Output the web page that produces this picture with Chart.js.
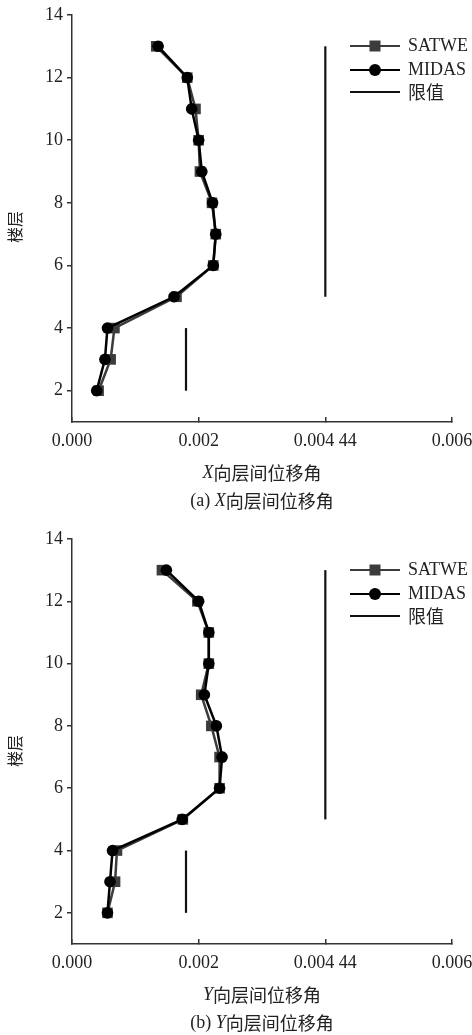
<!DOCTYPE html>
<html>
<head>
<meta charset="utf-8">
<script src="https://cdn.jsdelivr.net/npm/chart.js@4/dist/chart.umd.min.js"></script>
<style>
  html, body { margin: 0; padding: 0; background: #fff; overflow: hidden; }
  .box { position: absolute; left: 0; width: 472px; }
  #box1 { top: 0; }
  #box2 { top: 520px; }
</style>
</head>
<body>
<div class="box" id="box1"><canvas id="driftX" width="472" height="515"></canvas></div>
<div class="box" id="box2"><canvas id="driftY" width="472" height="515"></canvas></div>
<script>
// floors and drift ratios
const floors = [2, 3, 4, 5, 6, 7, 8, 9, 10, 11, 12, 13];
const satweX = [0.00042, 0.00061, 0.00067, 0.00165, 0.00223, 0.00227, 0.00221, 0.00202, 0.00200, 0.00195, 0.00182, 0.00133];
const midasX = [0.00039, 0.00052, 0.00056, 0.00161, 0.00223, 0.00227, 0.00222, 0.00205, 0.00200, 0.00189, 0.00182, 0.00136];
const satweY = [0.00056, 0.00068, 0.00071, 0.00175, 0.00233, 0.00233, 0.00220, 0.00204, 0.00216, 0.00216, 0.00198, 0.00142];
const midasY = [0.00056, 0.00060, 0.00064, 0.00174, 0.00233, 0.00237, 0.00228, 0.00209, 0.00216, 0.00216, 0.00200, 0.00149];

// limit lines: value, from floor, to floor
const limitValues = [0.0018, 0.004];
const limitFrom = [2, 5];
const limitTo = [4, 13];

const xTicks = [0, 0.002, 0.004, 0.006];
const xTickLabels = ['0.000', '0.002', '0.004 44', '0.006'];
const yTicks = [2, 4, 6, 8, 10, 12, 14];

const SERIF = '"Liberation Serif", "Times New Roman", serif';
const CJK = '"Noto Sans CJK SC", sans-serif';
const INK = '#222';

function drawParts(ctx, parts, cx, cy) {
  let total = 0;
  parts.forEach(p => { ctx.font = p[1]; total += ctx.measureText(p[0]).width; });
  let x = cx - total / 2;
  parts.forEach(p => {
    ctx.font = p[1];
    ctx.fillText(p[0], x, cy);
    x += ctx.measureText(p[0]).width;
  });
}

const textPlugin = {
  id: 'textPlugin',
  afterDraw(chart, args, opts) {
    const ctx = chart.ctx;
    const area = chart.chartArea;
    ctx.save();
    ctx.fillStyle = INK;
    ctx.textBaseline = 'middle';
    ctx.textAlign = 'left';
    const ital = 'italic 18px ' + SERIF;
    const cjk = '18px ' + CJK;
    drawParts(ctx, [[opts.dir, ital], ['向层间位移角', cjk]], 262, area.bottom + 51);
    drawParts(ctx, [['(' + opts.tag + ') ', '18px ' + SERIF], [opts.dir, ital], ['向层间位移角', cjk]], 262, area.bottom + 79);

    // y axis title
    ctx.save();
    ctx.translate(15, area.top + 212);
    ctx.rotate(-Math.PI / 2);
    ctx.textAlign = 'center';
    ctx.font = '16px ' + CJK;
    ctx.fillText('楼层', 0, 0);
    ctx.restore();

    // legend
    const seen = [];
    const rowY = [31, 55, 77];
    chart.data.datasets.forEach(ds => {
      if (seen.indexOf(ds.label) >= 0) return;
      const i = seen.length;
      seen.push(ds.label);
      const y = area.top + rowY[i];
      ctx.strokeStyle = ds.borderColor;
      ctx.lineWidth = 2;
      ctx.beginPath();
      ctx.moveTo(350, y);
      ctx.lineTo(400, y);
      ctx.stroke();
      ctx.fillStyle = ds.backgroundColor;
      if (ds.pointStyle === 'rect') {
        ctx.fillRect(375 - 5.5, y - 5.5, 11, 11);
      } else if (ds.pointRadius > 0) {
        ctx.beginPath();
        ctx.arc(375, y, 6, 0, Math.PI * 2);
        ctx.fill();
      }
      ctx.fillStyle = INK;
      ctx.font = '18px ' + (/^[A-Z]/.test(ds.label) ? SERIF : CJK);
      ctx.fillText(ds.label, 408, y);
    });
    ctx.restore();
  }
};

function makeChart(id, satwe, midas, dir, tag, topPad, axisH) {
  const datasets = [
    {
      label: 'SATWE',
      data: floors.map((f, i) => ({ x: satwe[i], y: f })),
      borderColor: '#3c3c3c',
      backgroundColor: '#3c3c3c',
      borderWidth: 2.5,
      pointStyle: 'rect',
      pointRadius: 7.5,
      pointBorderWidth: 0,
      order: 2
    },
    {
      label: 'MIDAS',
      data: floors.map((f, i) => ({ x: midas[i], y: f })),
      borderColor: '#000',
      backgroundColor: '#000',
      borderWidth: 2.5,
      pointStyle: 'circle',
      pointRadius: 5.8,
      pointBorderWidth: 0,
      order: 1
    }
  ];
  limitValues.forEach((v, i) => {
    datasets.push({
      label: '限值',
      data: [{ x: v, y: limitFrom[i] }, { x: v, y: limitTo[i] }],
      borderColor: '#111',
      backgroundColor: '#111',
      borderWidth: 2.2,
      pointRadius: 0,
      order: 3
    });
  });

  return new Chart(id, {
    type: 'scatter',
    data: { datasets: datasets },
    options: {
      responsive: false,
      animation: false,
      showLine: true,
      layout: { padding: { left: 0, right: 20, top: topPad, bottom: 0 } },
      plugins: {
        legend: { display: false },
        tooltip: { enabled: false },
        textPlugin: { dir: dir, tag: tag }
      },
      scales: {
        x: {
          type: 'linear',
          min: 0,
          max: 0.006,
          afterBuildTicks: s => { s.ticks = xTicks.map(v => ({ value: v })); },
          afterFit: s => { s.height = axisH; s.paddingLeft = 0; s.paddingRight = 0; },
          ticks: {
            callback: (v, i) => xTickLabels[i],
            font: { family: SERIF, size: 18 },
            color: INK,
            padding: 13,
            maxRotation: 0,
            autoSkip: false
          },
          grid: { drawOnChartArea: false, drawTicks: true, tickLength: -5, color: '#333', lineWidth: 1.5 },
          border: { color: '#333', width: 1.5 }
        },
        y: {
          type: 'linear',
          min: 1,
          max: 14,
          afterBuildTicks: s => { s.ticks = yTicks.map(v => ({ value: v })); },
          afterFit: s => { s.width = 72; s.paddingTop = 0; s.paddingBottom = 0; },
          ticks: {
            font: { family: SERIF, size: 18 },
            color: INK,
            padding: 4
          },
          grid: { drawOnChartArea: false, drawTicks: true, tickLength: 5, color: '#333', lineWidth: 1.5 },
          border: { color: '#333', width: 1.5 }
        }
      }
    },
    plugins: [textPlugin]
  });
}

makeChart('driftX', satweX, midasX, 'X', 'a', 15, 93);
makeChart('driftY', satweY, midasY, 'Y', 'b', 19, 91);
</script>
</body>
</html>
